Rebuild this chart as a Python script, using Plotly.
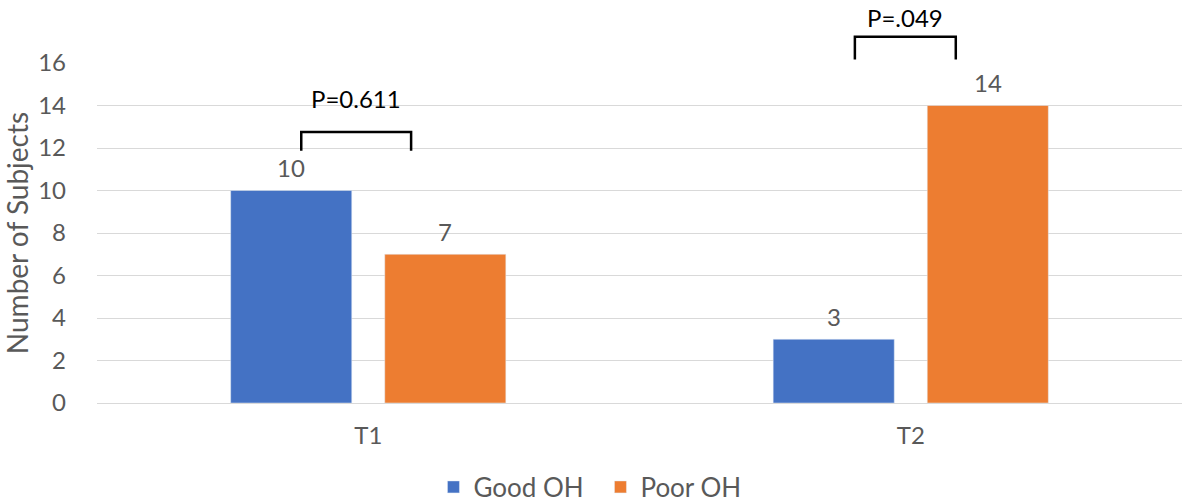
import plotly.graph_objects as go

categories = ["T1", "T2"]
good_oh = [10, 3]
poor_oh = [7, 14]
p_labels = ["P=0.611", "P=.049"]

blue = "#4472C4"
orange = "#ED7D31"
grey = "#595959"
font_family = "Lato, Open Sans, sans-serif"

# Plot area in pixels (must agree with the margins below)
W, H = 1182, 504
L, R, T, B = 97, 0, 63, 101
YMAX = 16
BARGAP, GROUPGAP = 0.432, 0.214

# Centre offset of each bar within its category (category units)
slot = (1 - BARGAP) / 2
bar_offsets = [-slot / 2, slot / 2]


def paper_x(cat_pos):
    # category position (0 = T1, 1 = T2) -> paper fraction
    return (cat_pos + 0.5) / len(categories)


def paper_y(val):
    return val / YMAX


fig = go.Figure()
for name, vals, color in [("Good OH", good_oh, blue), ("Poor OH", poor_oh, orange)]:
    fig.add_trace(go.Bar(name=name, x=categories, y=vals, marker_color=color))

# Value labels above each bar
for off, vals in zip(bar_offsets, [good_oh, poor_oh]):
    for i, v in enumerate(vals):
        fig.add_annotation(
            x=i + off, y=v, xref="x", yref="y", text=str(v), showarrow=False,
            yanchor="middle", yshift=23,
            font=dict(size=24, color=grey, family=font_family),
        )

# Significance brackets: (left, right in category units; tail y, top y, label y in data units)
brackets = [
    (-0.1235, 0.079, 11.87, 12.75, 14.33),
    (0.897, 1.083, 16.17, 17.24, 18.12),
]
for (x0, x1, yb, yt, ly), lab in zip(brackets, p_labels):
    a, b = paper_x(x0), paper_x(x1)
    fig.add_shape(
        type="path", xref="paper", yref="paper",
        path=f"M {a},{paper_y(yb)} L {a},{paper_y(yt)} L {b},{paper_y(yt)} L {b},{paper_y(yb)}",
        line=dict(color="black", width=2.5),
    )
    fig.add_annotation(
        x=(a + b) / 2, y=paper_y(ly), xref="paper", yref="paper", text=lab,
        xanchor="center", yanchor="middle", showarrow=False,
        font=dict(size=24, color="black", family=font_family),
    )

fig.update_layout(
    width=W, height=H,
    margin=dict(l=L, r=R, t=T, b=B),
    paper_bgcolor="white", plot_bgcolor="white",
    barmode="group", bargap=BARGAP, bargroupgap=GROUPGAP,
    font=dict(family=font_family, color=grey),
    showlegend=True,
    legend=dict(
        orientation="h", xref="container", yref="container",
        x=0.508, xanchor="center", y=0.0337, yanchor="middle",
        font=dict(size=26, color=grey), itemwidth=30,
        entrywidth=122, entrywidthmode="pixels",
    ),
)
fig.update_xaxes(
    type="category", showgrid=False, showline=False, zeroline=False,
    tickfont=dict(size=24, color=grey), ticks="", ticklabelstandoff=16,
)
fig.update_yaxes(
    range=[0, YMAX], dtick=2, showgrid=True, gridcolor="#D9D9D9", gridwidth=1,
    zeroline=True, zerolinecolor="#D9D9D9", zerolinewidth=1,
    showline=False, ticks="", tickfont=dict(size=24, color=grey),
    ticklabelstandoff=30,
    title=dict(text="Number of Subjects", font=dict(size=28, color=grey), standoff=5),
)

fig.write_html("out.html")
